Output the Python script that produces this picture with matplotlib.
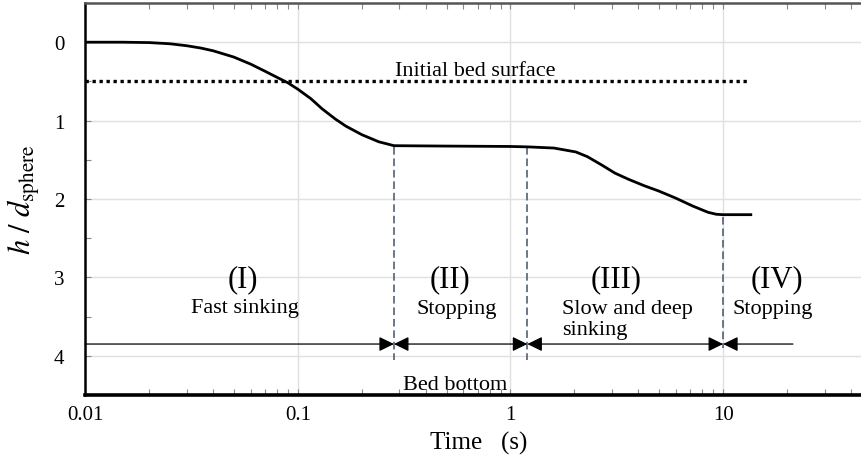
import numpy as np
import matplotlib
matplotlib.use('Agg')
from matplotlib import pyplot as plt
from matplotlib.ticker import FixedLocator, LogLocator, MultipleLocator, NullFormatter

plt.rcParams['font.family'] = ['Liberation Serif', 'DejaVu Serif']
plt.rcParams['mathtext.fontset'] = 'stix'

# sphere depth curve
time_s = [0.01, 0.015, 0.02, 0.025, 0.03, 0.035, 0.04, 0.05, 0.06, 0.07, 0.08,
          0.09, 0.1, 0.115, 0.13, 0.15, 0.168, 0.2, 0.24, 0.283, 0.5, 1.0, 1.2,
          1.6, 2.03, 2.3, 2.7, 3.1, 3.6, 4.25, 5.0, 6.0, 7.2, 8.5, 9.3, 10.0, 13.5]
depth = [0.0, 0.0, 0.005, 0.02, 0.045, 0.075, 0.11, 0.19, 0.28, 0.37, 0.45,
         0.52, 0.6, 0.72, 0.85, 0.98, 1.07, 1.18, 1.27, 1.32, 1.325, 1.33, 1.335,
         1.35, 1.40, 1.46, 1.57, 1.67, 1.75, 1.83, 1.9, 1.99, 2.09, 2.17, 2.195, 2.2, 2.2]

# stage boundaries (s) and the depth where each dashed line starts / ends
bounds = [0.283, 1.2, 10.0]
bound_top = [1.34, 1.34, 2.23]
bound_bottom = [4.05, 4.05, 3.9]

surface_depth = 0.5
surface_end = 13.0
arrow_depth = 3.85
arrow_start, arrow_end = 0.01, 21.3

stage_ids = ['(I)', '(II)', '(III)', '(IV)']
stage_x = [0.0553, 0.518, 3.13, 17.9]
stage_names = ['Fast sinking', 'Stopping', 'Slow and deep', 'sinking', 'Stopping']
name_x = [0.0566, 0.558, 1.75, 1.75, 17.1]
name_y = [3.38, 3.4, 3.4, 3.66, 3.4]
name_ha = ['center', 'center', 'left', 'left', 'center']

xticks = [0.01, 0.1, 1, 10]
xtick_labels = ['0.01', '0.1', '1', '10']
yticks = [0, 1, 2, 3, 4]

fig = plt.figure(figsize=(8.62, 4.6), dpi=100)
ax = fig.add_axes([85.3 / 862, 64 / 460, 786.4 / 862, 392 / 460])
ax.set_xscale('log')
ax.set_xlim(0.01, 50)
ax.set_ylim(4.5, -0.5)

ax.grid(True, which='major', color='#e0e0e0', lw=1.0, zorder=0)
ax.set_axisbelow(True)

ax.plot(time_s, depth, color='black', lw=2.0, zorder=4)
ax.plot([0.01, surface_end], [surface_depth, surface_depth], color='black',
        lw=2.4, ls=(0, (1, 1.1)), zorder=3)
ax.text(0.68, 0.36, 'Initial bed surface', ha='center', va='center', fontsize=16)

for b, top, bot in zip(bounds, bound_top, bound_bottom):
    ax.plot([b, b], [top, bot], color='#44546a', lw=1.1, ls=(0, (5, 2.5)), zorder=3)

# arrows between the stage boundaries
edges = [arrow_start] + bounds + [arrow_end]
for i in range(len(edges) - 1):
    a, b = edges[i], edges[i + 1]
    if i == 0:
        style = '-|>'
    elif i == len(edges) - 2:
        style = '<|-'
    else:
        style = '<|-|>'
    ax.annotate('', xy=(b, arrow_depth), xytext=(a, arrow_depth),
                arrowprops=dict(arrowstyle=style + ',head_length=0.45,head_width=0.22',
                                color='black', lw=0.9, shrinkA=0, shrinkB=0,
                                mutation_scale=20), zorder=5)

for x, s in zip(stage_x, stage_ids):
    ax.text(x, 3.02, s, ha='center', va='center', fontsize=22)
for x, y, s, ha in zip(name_x, name_y, stage_names, name_ha):
    ax.text(x, y, s, ha=ha, va='center', fontsize=16)
ax.text(0.548, 4.36, 'Bed bottom', ha='center', va='center', fontsize=16)

ax.xaxis.set_major_locator(FixedLocator(xticks))
ax.set_xticklabels(xtick_labels)
ax.xaxis.set_minor_locator(LogLocator(base=10, subs=np.arange(2, 10)))
ax.xaxis.set_minor_formatter(NullFormatter())
ax.set_yticks(yticks)
ax.yaxis.set_minor_locator(MultipleLocator(0.5))

ax.tick_params(axis='both', which='both', direction='in', colors='#888888',
               labelcolor='black', labelsize=15)
ax.tick_params(axis='x', which='both', top=True, bottom=True, pad=7)
ax.tick_params(axis='y', which='both', left=True, right=False, pad=15)
ax.tick_params(which='major', length=4, width=0.8)
ax.tick_params(which='minor', length=4, width=0.8)

ax.spines['top'].set_color('#555555')
ax.spines['top'].set_linewidth(1.8)
ax.spines['left'].set_color('black')
ax.spines['left'].set_linewidth(1.8)
ax.spines['bottom'].set_color('black')
ax.spines['bottom'].set_linewidth(2.6)
ax.spines['right'].set_visible(False)

ax.set_xlabel('Time   (s)', fontsize=18, va='center')
ax.xaxis.set_label_coords(0.5, -0.12)
ax.set_ylabel(r'$h\ /\ d_{\mathrm{sphere}}$', fontsize=22, va='center')
ax.yaxis.set_label_coords(-0.078, 0.5)

plt.savefig('out.png', dpi=100)
plt.close()
